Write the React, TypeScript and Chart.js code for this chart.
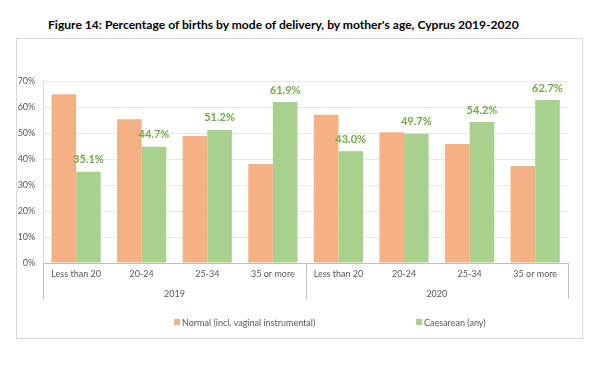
import React, { useEffect, useRef } from "react";
import { Chart, registerables } from "chart.js";
Chart.register(...registerables);

const title = "Figure 14: Percentage of births by mode of delivery, by mother's age, Cyprus 2019-2020";
const years = ["2019", "2020"];
const ageGroups = ["Less than 20", "20-24", "25-34", "35 or more"];
const categories = [...ageGroups, ...ageGroups];
const normal = [64.9, 55.3, 48.8, 38.1, 57.0, 50.3, 45.8, 37.3];
const caesarean = [35.1, 44.7, 51.2, 61.9, 43.0, 49.7, 54.2, 62.7];
const yMin = 0;
const yMax = 70;
const yStep = 10;
const seriesNames = ["Normal (incl. vaginal instrumental)", "Caesarean (any)"];
const seriesColors = ["#F4B183", "#A9D18E"];
const labelColor = "#70AD47";

const FONT = "Lato, 'Open Sans', sans-serif";
const TEXT = "#595959";

const separatorPlugin = {
  id: "groupSeparators",
  afterDraw(chart: any) {
    const x = chart.scales.x;
    const x2 = chart.scales.x2;
    const n = categories.length;
    const step = x.width / n;
    const ctx = chart.ctx;
    ctx.save();
    ctx.strokeStyle = "#BFBFBF";
    ctx.lineWidth = 1;
    let idx = 0;
    const bounds = [0];
    years.forEach(() => {
      idx += ageGroups.length;
      bounds.push(idx);
    });
    bounds.forEach((b) => {
      const px = Math.round(x.left + b * step) + 0.5;
      ctx.beginPath();
      ctx.moveTo(px, x.top);
      ctx.lineTo(px, x2.bottom - 1);
      ctx.stroke();
    });
    ctx.restore();
  },
};

const valueLabelPlugin = {
  id: "valueLabels",
  afterDatasetsDraw(chart: any) {
    const ctx = chart.ctx;
    const meta = chart.getDatasetMeta(1);
    ctx.save();
    ctx.font = `bold 11px ${FONT}`;
    ctx.fillStyle = labelColor;
    ctx.textAlign = "center";
    ctx.textBaseline = "middle";
    meta.data.forEach((bar: any, i: number) => {
      ctx.fillText(caesarean[i].toFixed(1) + "%", bar.x, bar.y - 12);
    });
    ctx.restore();
  },
};

export default function App() {
  const ref = useRef<HTMLCanvasElement>(null);
  useEffect(() => {
    if (!ref.current) return;
    const chart = new Chart(ref.current, {
      type: "bar",
      data: {
        labels: categories,
        datasets: [
          { label: seriesNames[0], data: normal, backgroundColor: seriesColors[0], categoryPercentage: 0.75, barPercentage: 1 },
          { label: seriesNames[1], data: caesarean, backgroundColor: seriesColors[1], categoryPercentage: 0.75, barPercentage: 1 },
        ],
      },
      options: {
        animation: false,
        responsive: false,
        devicePixelRatio: 1,
        layout: { padding: { left: 0, right: 14, top: 42, bottom: 38 } },
        plugins: { legend: { display: false }, title: { display: false }, tooltip: { enabled: false } },
        scales: {
          y: {
            min: yMin,
            max: yMax,
            ticks: { stepSize: yStep, callback: (v: any) => v + "%", color: TEXT, font: { family: FONT, size: 9 }, padding: 8 },
            grid: { color: "#E8E8E8", drawTicks: false },
            border: { color: "#D9D9D9" },
            afterFit: (s: any) => { s.width = 26.3; },
          },
          x: {
            type: "category",
            ticks: { color: TEXT, font: { family: FONT, size: 9 }, padding: 6, maxRotation: 0, autoSkip: false },
            grid: { display: false, drawTicks: false },
            border: { color: "#BFBFBF" },
            afterFit: (s: any) => { s.height = 22; },
          },
          x2: {
            type: "category",
            position: "bottom",
            labels: years,
            ticks: { color: TEXT, font: { family: FONT, size: 9 }, padding: 4, maxRotation: 0 },
            grid: { display: false, drawTicks: false },
            border: { display: false },
            afterFit: (s: any) => { s.height = 15; },
          },
        },
      } as any,
      plugins: [separatorPlugin, valueLabelPlugin],
    });
    return () => chart.destroy();
  }, []);

  return (
    <div style={{ position: "absolute", left: 0, top: 0, width: 600, height: 365, background: "#fff", fontFamily: FONT }}>
      <div style={{ position: "absolute", left: 48, top: 17, fontSize: 12.1, fontWeight: 700, color: "#000", whiteSpace: "nowrap", lineHeight: "16px" }}>
        {title}
      </div>
      <div style={{ position: "absolute", left: 16, top: 38, width: 565, height: 299, border: "1px solid #D9D9D9" }}>
        <canvas ref={ref} width={565} height={299} style={{ display: "block" }} />
      </div>
      {seriesNames.map((name, i) => (
        <div key={name} style={{ position: "absolute", left: i === 0 ? 174 : 416, top: 316, height: 12, display: "flex", alignItems: "center", fontSize: 9, color: TEXT, whiteSpace: "nowrap" }}>
          <span style={{ display: "inline-block", width: 6, height: 6, background: seriesColors[i], marginRight: 2 }} />
          {name}
        </div>
      ))}
    </div>
  );
}
